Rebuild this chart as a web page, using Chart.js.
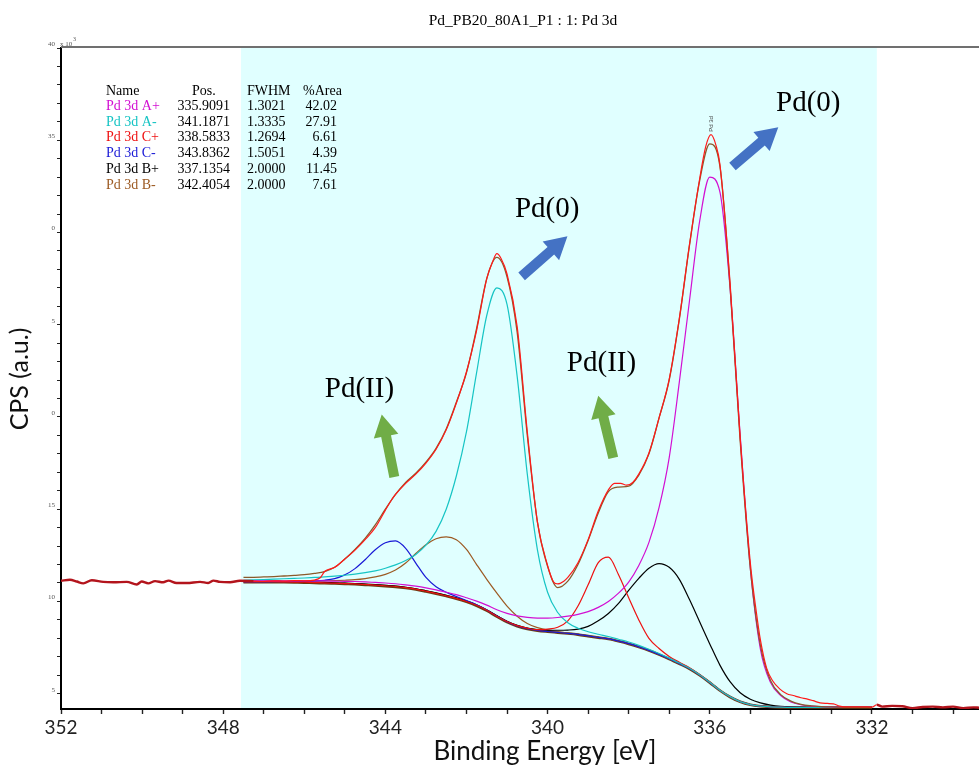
<!DOCTYPE html>
<html>
<head>
<meta charset="utf-8">
<script src="https://cdn.jsdelivr.net/npm/chart.js@4.4.1/dist/chart.umd.min.js"></script>
<style>
  body { margin: 0; background: #fff; }
  canvas { display: block; }
</style>
</head>
<body>
<canvas id="myChart" width="979" height="769"></canvas>
<script>
// fit region (eV)
const fitStart = 347.56;
const fitEnd = 331.88;

// measured spectrum
const rawEnergy = [352.0, 351.78, 351.61, 351.45, 351.24, 350.96, 350.71, 350.38, 350.13, 350.01, 349.85, 349.68, 349.48, 349.35, 349.15, 348.9, 348.57, 348.37, 348.24, 348.08, 347.83, 347.59,
  347.25, 347.0, 346.75, 346.5, 346.25, 346.0, 345.75, 345.6, 345.5, 345.25, 345.0, 344.75, 344.5, 344.25, 344.0, 343.85, 343.75, 343.5, 343.25, 343.0, 342.75, 342.5, 342.25, 342.0, 341.75, 341.5, 341.35, 341.25, 341.15, 341.0,
  340.75, 340.5, 340.25, 340.0, 339.85, 339.75, 339.6, 339.5, 339.25, 339.0, 338.75, 338.5, 338.35, 338.2, 338.05, 337.9, 337.75, 337.5, 337.25, 337.0, 336.75, 336.5, 336.25, 336.1, 335.97, 335.85, 335.75, 335.5, 335.25, 335.0,
  334.85, 334.75, 334.6, 334.45, 334.27, 334.1, 333.94, 333.75, 333.61, 333.45, 333.28, 333.1, 332.95, 332.8, 332.6, 332.4, 332.2, 332.0,
  331.88, 331.75, 331.5, 331.25, 331.0, 330.75, 330.5, 330.25, 330.0, 329.75, 329.5, 329.36];
const rawCounts = [11.12, 11.18, 11.08, 10.98, 11.15, 11.06, 11.04, 11.06, 10.92, 11.08, 10.98, 11.1, 11.04, 11.13, 11.0, 11.0, 11.06, 11.0, 11.13, 11.06, 11.04, 11.12,
  11.1, 11.08, 11.12, 11.1, 11.13, 11.12, 11.16, 11.3, 11.62, 11.85, 12.3, 12.78, 13.35, 14.0, 14.95, 15.5, 15.8, 16.4, 16.9, 17.5, 18.25, 19.3, 20.75, 22.45, 24.7, 27.5, 28.45, 28.85, 28.6, 27.75,
  24.9, 19.2, 14.3, 11.95, 11.05, 10.95, 11.1, 11.3, 12.1, 13.35, 14.9, 16.05, 16.4, 16.4, 16.3, 16.45, 16.9, 18.05, 19.95, 22.05, 25.35, 29.35, 32.9, 34.65, 35.3, 34.75, 33.7, 27.3, 18.9, 12.1,
  9.4, 7.9, 6.4, 5.7, 5.25, 5.0, 4.9, 4.78, 4.72, 4.62, 4.5, 4.47, 4.45, 4.33, 4.28, 4.28, 4.29, 4.27,
  4.4, 4.3, 4.34, 4.32, 4.22, 4.28, 4.3, 4.26, 4.3, 4.22, 4.26, 4.24];

// fit grid (eV) shared by envelope, components and background
const gridEnergy = [347.5, 347.25, 347.0, 346.75, 346.5, 346.25, 346.0, 345.75, 345.5, 345.25, 345.0, 344.75, 344.5, 344.25, 344.0, 343.75,
  343.5, 343.25, 343.0, 342.75, 342.5, 342.25, 342.0, 341.75, 341.5, 341.25, 341.0, 340.75, 340.5, 340.25, 340.0, 339.75,
  339.5, 339.25, 339.0, 338.75, 338.5, 338.25, 338.0, 337.75, 337.5, 337.25, 337.0, 336.75, 336.5, 336.25, 336.0, 335.75,
  335.5, 335.25, 335.0, 334.75, 334.5, 334.25, 334.0, 333.75, 333.5, 333.25, 333.0, 332.75, 332.5, 332.25, 332.0];

const envelope = [11.3, 11.31, 11.33, 11.35, 11.38, 11.41, 11.45, 11.52, 11.62, 11.85, 12.3, 12.82, 13.42, 14.15, 15.0, 15.8,
  16.45, 16.95, 17.55, 18.3, 19.35, 20.8, 22.4, 24.8, 27.5, 28.65, 27.6, 24.6, 19.0, 14.3, 11.9, 10.75,
  11.1, 12.0, 13.3, 14.8, 15.95, 16.2, 16.25, 16.85, 18.0, 19.95, 22.0, 25.3, 29.3, 32.8, 34.8, 33.6,
  27.1, 18.7, 11.8, 7.6, 5.7, 4.95, 4.6, 4.42, 4.34, 4.3, 4.28, 4.27, 4.26, 4.26, 4.25];

const background = [11.05, 11.05, 11.05, 11.05, 11.04, 11.03, 11.02, 11.0, 10.99, 10.97, 10.95, 10.93, 10.9, 10.87, 10.83, 10.79,
  10.73, 10.65, 10.54, 10.42, 10.29, 10.15, 9.98, 9.77, 9.5, 9.18, 8.88, 8.66, 8.51, 8.42, 8.36, 8.31,
  8.26, 8.2, 8.12, 8.04, 7.96, 7.84, 7.7, 7.53, 7.34, 7.12, 6.88, 6.62, 6.35, 6.0, 5.6, 5.17,
  4.82, 4.56, 4.4, 4.32, 4.28, 4.26, 4.25, 4.25, 4.25, 4.25, 4.25, 4.25, 4.25, 4.25, 4.25];

// Pd 3d A+
const peakAplus = [11.11, 11.11, 11.12, 11.12, 11.12, 11.12, 11.12, 11.11, 11.11, 11.1, 11.09, 11.08, 11.06, 11.03, 11.0, 10.96,
  10.9, 10.83, 10.74, 10.63, 10.5, 10.37, 10.2, 10.02, 9.8, 9.55, 9.35, 9.22, 9.14, 9.1, 9.1, 9.13,
  9.2, 9.3, 9.45, 9.68, 10.0, 10.45, 11.05, 11.95, 13.2, 15.1, 17.8, 21.9, 26.3, 30.6, 33.0, 32.2,
  27.0, 19.0, 11.8, 7.4, 5.6, 4.9, 4.55, 4.4, 4.33, 4.3, 4.28, 4.27, 4.26, 4.26, 4.26];

// Pd 3d A-
const peakAminus = [11.15, 11.17, 11.19, 11.21, 11.23, 11.25, 11.27, 11.3, 11.33, 11.37, 11.42, 11.48, 11.56, 11.66, 11.8, 11.98,
  12.22, 12.55, 13.05, 13.8, 15.0, 16.8, 19.2, 22.4, 25.5, 27.0, 26.1, 22.2, 16.9, 12.8, 10.5, 9.4,
  8.85, 8.55, 8.36, 8.22, 8.1, 7.95, 7.8, 7.62, 7.41, 7.18, 6.93, 6.66, 6.38, 6.03, 5.62, 5.19,
  4.84, 4.57, 4.41, 4.33, 4.29, 4.27, 4.26, 4.26, 4.26, 4.26, 4.26, 4.26, 4.26, 4.26, 4.26];

// Pd 3d C+
const peakCplus = [11.07, 11.07, 11.07, 11.07, 11.06, 11.05, 11.04, 11.02, 11.01, 10.99, 10.97, 10.95, 10.92, 10.89, 10.85, 10.81,
  10.75, 10.67, 10.56, 10.44, 10.31, 10.17, 10.0, 9.79, 9.52, 9.2, 8.91, 8.69, 8.55, 8.47, 8.5, 8.6,
  8.95, 9.75, 10.9, 12.1, 12.4, 11.45, 10.2, 9.0, 8.0, 7.45, 7.02, 6.7, 6.4, 6.04, 5.63, 5.19,
  4.84, 4.57, 4.41, 4.33, 4.29, 4.27, 4.26, 4.26, 4.26, 4.26, 4.26, 4.26, 4.26, 4.26, 4.26];

// Pd 3d C-
const peakCminus = [11.06, 11.06, 11.06, 11.07, 11.07, 11.08, 11.09, 11.11, 11.15, 11.24, 11.44, 11.78, 12.26, 12.8, 13.18, 13.28,
  12.88, 12.08, 11.3, 10.8, 10.5, 10.27, 10.05, 9.82, 9.54, 9.21, 8.9, 8.67, 8.52, 8.43, 8.37, 8.32,
  8.27, 8.21, 8.13, 8.05, 7.97, 7.85, 7.71, 7.54, 7.35, 7.13, 6.89, 6.63, 6.36, 6.01, 5.61, 5.18,
  4.83, 4.57, 4.41, 4.33, 4.29, 4.27, 4.26, 4.26, 4.26, 4.26, 4.26, 4.26, 4.26, 4.26, 4.26];

// Pd 3d B+
const peakBplus = [11.09, 11.09, 11.09, 11.09, 11.08, 11.07, 11.06, 11.04, 11.03, 11.01, 10.99, 10.97, 10.94, 10.91, 10.87, 10.83,
  10.77, 10.69, 10.58, 10.46, 10.33, 10.19, 10.02, 9.81, 9.54, 9.22, 8.93, 8.7, 8.55, 8.48, 8.45, 8.44,
  8.45, 8.5, 8.65, 8.95, 9.35, 9.9, 10.6, 11.25, 11.8, 12.05, 11.85, 11.2, 10.1, 8.9, 7.7, 6.55,
  5.65, 5.05, 4.7, 4.5, 4.38, 4.31, 4.28, 4.27, 4.26, 4.25, 4.25, 4.25, 4.25, 4.25, 4.25];

// Pd 3d B-
const peakBminus = [11.07, 11.07, 11.08, 11.08, 11.09, 11.09, 11.1, 11.11, 11.12, 11.13, 11.15, 11.18, 11.24, 11.33, 11.47, 11.7,
  12.08, 12.6, 13.07, 13.4, 13.5, 13.35, 12.82, 12.0, 11.2, 10.45, 9.75, 9.2, 8.8, 8.58, 8.45, 8.36,
  8.29, 8.22, 8.14, 8.06, 7.97, 7.85, 7.71, 7.54, 7.35, 7.13, 6.89, 6.63, 6.36, 6.01, 5.61, 5.18,
  4.83, 4.57, 4.41, 4.33, 4.29, 4.27, 4.26, 4.26, 4.26, 4.26, 4.26, 4.26, 4.26, 4.26, 4.26];

// fit table
const compNames = ['Pd 3d A+', 'Pd 3d A-', 'Pd 3d C+', 'Pd 3d C-', 'Pd 3d B+', 'Pd 3d B-'];
const compPos = ['335.9091', '341.1871', '338.5833', '343.8362', '337.1354', '342.4054'];
const compFwhm = ['1.3021', '1.3335', '1.2694', '1.5051', '2.0000', '2.0000'];
const compArea = ['42.02', '27.91', '6.61', '4.39', '11.45', '7.61'];

// y tick labels as printed (truncated in the original export)
const yTickText = { 40: '40', 35: '35', 30: '0', 25: '5', 20: '0', 15: '15', 10: '10', 5: '5' };

const compColors = ['#d20fd2', '#16c4c4', '#ee1111', '#1a1ad6', '#000000', '#9c5a23'];

function pts(xs, ys) {
    return xs.map((x, i) => ({ x: x, y: ys[i] }));
}

function inFit(x) {
    return x <= fitStart && x >= fitEnd;
}

// annotation text + arrows, anchored in data units
const notes = [
    { text: 'Pd(0)', x: 340.01, y: 30.86 },
    { text: 'Pd(0)', x: 333.57, y: 36.6 },
    { text: 'Pd(II)', x: 338.67, y: 22.51 },
    { text: 'Pd(II)', x: 344.64, y: 21.1 }
];
const arrows = [
    { from: [340.64, 27.62], to: [339.51, 29.79], color: '#4472c4' },
    { from: [335.44, 33.58], to: [334.31, 35.7], color: '#4472c4' },
    { from: [338.38, 17.78], to: [338.75, 21.15], color: '#70ad47' },
    { from: [343.78, 16.75], to: [344.09, 20.13], color: '#70ad47' }
];

function drawArrow(ctx, x0, y0, x1, y1, color) {
    const dx = x1 - x0, dy = y1 - y0;
    const len = Math.sqrt(dx * dx + dy * dy);
    const ux = dx / len, uy = dy / len;
    const nx = -uy, ny = ux;
    const w = 5, hw = 12.5, hl = 22;
    const bx = x1 - ux * hl, by = y1 - uy * hl;
    ctx.beginPath();
    ctx.moveTo(x0 + nx * w, y0 + ny * w);
    ctx.lineTo(bx + nx * w, by + ny * w);
    ctx.lineTo(bx + nx * hw, by + ny * hw);
    ctx.lineTo(x1, y1);
    ctx.lineTo(bx - nx * hw, by - ny * hw);
    ctx.lineTo(bx - nx * w, by - ny * w);
    ctx.lineTo(x0 - nx * w, y0 - ny * w);
    ctx.closePath();
    ctx.fillStyle = color;
    ctx.fill();
}

const decor = {
    id: 'decor',
    beforeDraw(chart) {
        const ctx = chart.ctx;
        const area = chart.chartArea;
        const xs = chart.scales.x;
        const a = xs.getPixelForValue(fitStart);
        const b = xs.getPixelForValue(fitEnd);
        ctx.save();
        ctx.fillStyle = '#e0ffff';
        ctx.fillRect(a, area.top, b - a, area.bottom - area.top);
        ctx.restore();
    },
    afterDraw(chart) {
        const ctx = chart.ctx;
        const area = chart.chartArea;
        const xs = chart.scales.x;
        const ys = chart.scales.y;
        ctx.save();

        // top frame line
        ctx.strokeStyle = '#707070';
        ctx.lineWidth = 2;
        ctx.beginPath();
        ctx.moveTo(area.left, area.top - 1);
        ctx.lineTo(area.right, area.top - 1);
        ctx.stroke();

        // title
        ctx.fillStyle = '#000';
        ctx.font = '15.5px "Liberation Serif"';
        ctx.textAlign = 'center';
        ctx.textBaseline = 'alphabetic';
        ctx.fillText('Pd_PB20_80A1_P1 : 1: Pd 3d', 523, 25);

        // x10^3
        ctx.fillStyle = '#555';
        ctx.textAlign = 'left';
        ctx.font = '7px "Liberation Serif"';
        ctx.fillText('x 10', 60, 46);
        ctx.font = '6px "Liberation Serif"';
        ctx.fillText('3', 73, 41);

        // axis titles
        ctx.fillStyle = '#111';
        ctx.font = '26px Lato';
        ctx.textAlign = 'center';
        ctx.fillText('Binding Energy [eV]', 545, 760);
        ctx.save();
        ctx.translate(28, 379);
        ctx.rotate(-Math.PI / 2);
        ctx.font = '25px Lato';
        ctx.fillText('CPS (a.u.)', 0, 0);
        ctx.restore();

        // fit table
        ctx.font = '14px "Liberation Serif"';
        ctx.fillStyle = '#000';
        ctx.textAlign = 'left';
        ctx.fillText('Name', 106, 95);
        ctx.fillText('Pos.', 192, 95);
        ctx.fillText('FWHM', 247, 95);
        ctx.fillText('%Area', 303, 95);
        for (let i = 0; i < compNames.length; i++) {
            const yy = 110 + i * 15.7;
            ctx.textAlign = 'left';
            ctx.fillStyle = compColors[i];
            ctx.fillText(compNames[i], 106, yy);
            ctx.fillStyle = '#000';
            ctx.textAlign = 'right';
            ctx.fillText(compPos[i], 230, yy);
            ctx.textAlign = 'left';
            ctx.fillText(compFwhm[i], 247, yy);
            ctx.textAlign = 'right';
            ctx.fillText(compArea[i], 337, yy);
        }

        // peak marker
        ctx.save();
        ctx.translate(xs.getPixelForValue(335.97) + 2, ys.getPixelForValue(35.46));
        ctx.rotate(-Math.PI / 2);
        ctx.font = '6px "Liberation Sans"';
        ctx.fillStyle = '#444';
        ctx.textAlign = 'left';
        ctx.fillText('Pd 3d', 0, 0);
        ctx.restore();

        // arrows
        arrows.forEach(ar => {
            drawArrow(ctx,
                xs.getPixelForValue(ar.from[0]), ys.getPixelForValue(ar.from[1]),
                xs.getPixelForValue(ar.to[0]), ys.getPixelForValue(ar.to[1]), ar.color);
        });

        // labels
        ctx.font = '29px "Liberation Serif"';
        ctx.fillStyle = '#000';
        ctx.textAlign = 'center';
        notes.forEach(n => {
            ctx.fillText(n.text, xs.getPixelForValue(n.x), ys.getPixelForValue(n.y));
        });
        ctx.restore();
    }
};

function line(label, xs, ys, color, width, order) {
    return {
        label: label,
        data: pts(xs, ys),
        borderColor: color,
        borderWidth: width,
        pointRadius: 0,
        fill: false,
        cubicInterpolationMode: 'monotone',
        order: order
    };
}

const datasets = [
    {
        label: 'Data',
        data: pts(rawEnergy, rawCounts),
        borderColor: '#ff1a1a',
        borderWidth: 1.2,
        pointRadius: 0,
        fill: false,
        cubicInterpolationMode: 'monotone',
        order: 0,
        segment: {
            borderColor: c => inFit(c.p0.parsed.x) && inFit(c.p1.parsed.x) ? '#ff1a1a' : '#b3141c',
            borderWidth: c => inFit(c.p0.parsed.x) && inFit(c.p1.parsed.x) ? 1.2 : 2.4
        }
    },
    line('Envelope', gridEnergy, envelope, '#8a5a2a', 1.3, 1),
    line('Pd 3d A+', gridEnergy, peakAplus, compColors[0], 1.2, 2),
    line('Pd 3d A-', gridEnergy, peakAminus, compColors[1], 1.2, 3),
    line('Pd 3d C+', gridEnergy, peakCplus, compColors[2], 1.2, 4),
    line('Pd 3d C-', gridEnergy, peakCminus, compColors[3], 1.2, 5),
    line('Pd 3d B+', gridEnergy, peakBplus, compColors[4], 1.2, 6),
    line('Pd 3d B-', gridEnergy, peakBminus, compColors[5], 1.2, 7),
    line('Background', gridEnergy, background, '#6e3b12', 2.6, 8)
];

const ctx = document.getElementById('myChart').getContext('2d');
const chart = new Chart(ctx, {
    type: 'line',
    data: { datasets: datasets },
    options: {
        responsive: false,
        animation: false,
        devicePixelRatio: 1,
        layout: { padding: { top: 48, left: 0, right: 0, bottom: 0 } },
        plugins: {
            legend: { display: false },
            tooltip: { enabled: false },
            title: { display: false }
        },
        scales: {
            x: {
                type: 'linear',
                reverse: true,
                min: 329.36,
                max: 352,
                afterFit: s => { s.height = 60; },
                border: { display: true, color: '#000', width: 2 },
                grid: { drawOnChartArea: false, drawTicks: true, tickLength: 5, tickColor: '#222', tickWidth: 1.4 },
                ticks: {
                    stepSize: 1,
                    autoSkip: false,
                    includeBounds: false,
                    maxRotation: 0,
                    padding: 2,
                    color: '#222',
                    font: { family: 'Lato', size: 19 },
                    callback: v => (Math.round(v) % 4 === 0 ? String(Math.round(v)) : '')
                }
            },
            y: {
                type: 'linear',
                min: 4.17,
                max: 40,
                afterFit: s => { s.width = 61; },
                border: { display: true, color: '#000', width: 2 },
                grid: { drawOnChartArea: false, drawTicks: true, tickLength: 4, tickColor: '#222', tickWidth: 1 },
                ticks: {
                    stepSize: 1,
                    autoSkip: false,
                    includeBounds: false,
                    padding: 2,
                    labelOffset: -4,
                    color: '#555',
                    font: { family: 'Liberation Serif', size: 7 },
                    callback: v => yTickText[Math.round(v)] !== undefined && Math.abs(v - Math.round(v)) < 1e-6 ? yTickText[Math.round(v)] : ''
                }
            }
        }
    },
    plugins: [decor]
});
</script>
</body>
</html>
